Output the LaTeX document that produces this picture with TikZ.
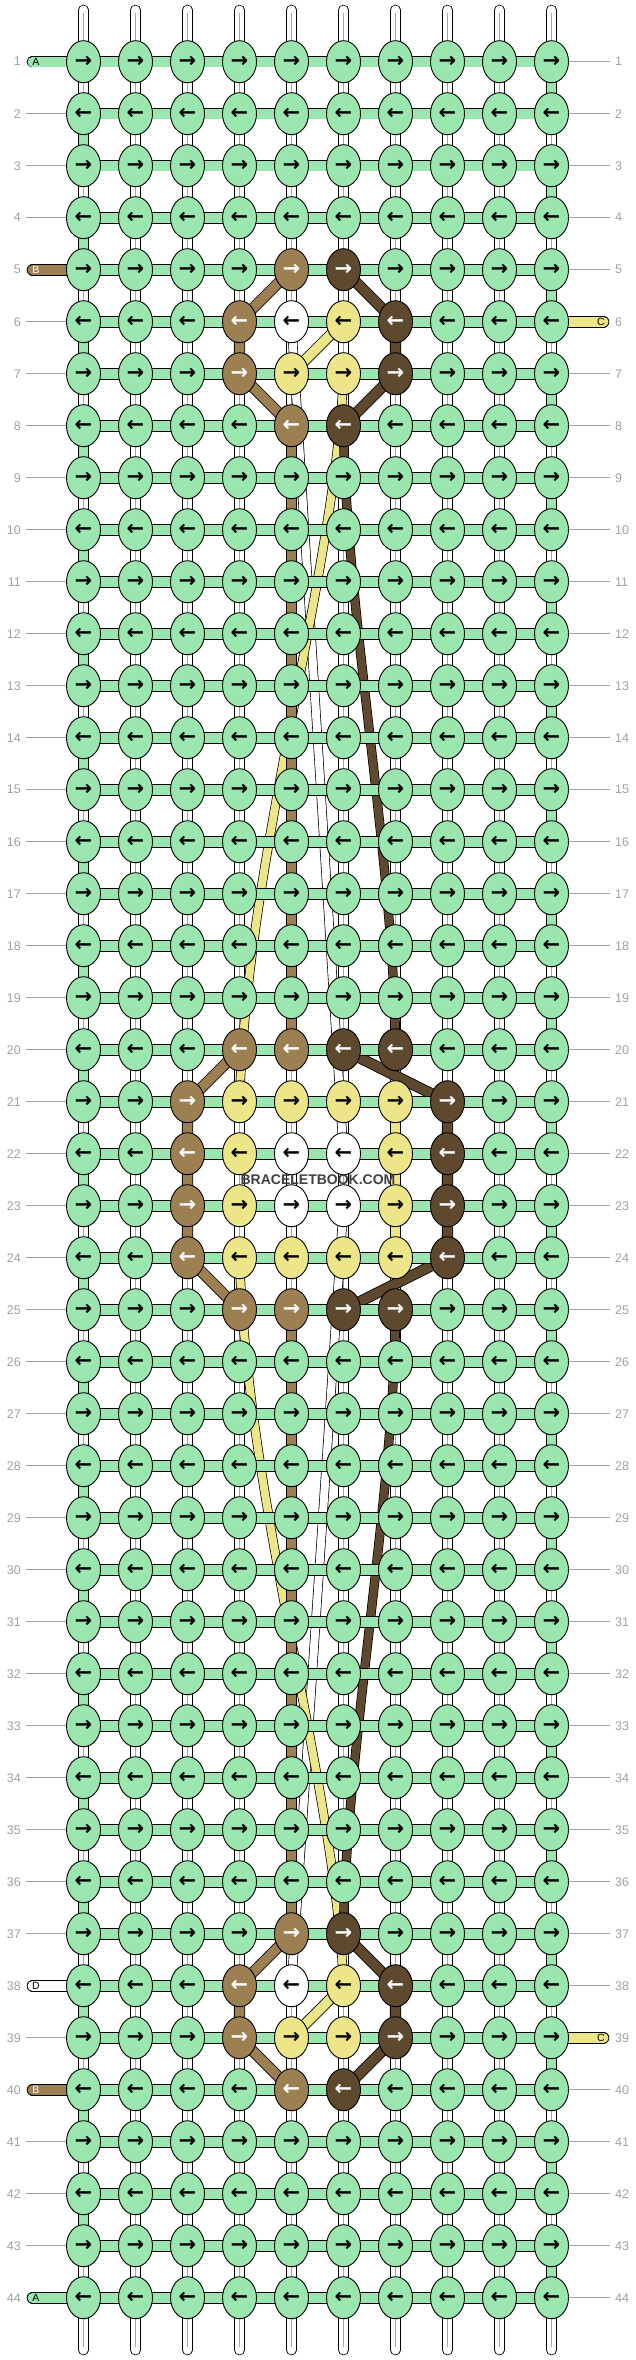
\documentclass[tikz,border=0pt]{standalone}
\usepackage{fontspec}
\setmainfont{Liberation Sans}
\newfontfamily\arrowfont{DejaVu Sans}
\usetikzlibrary{shapes.geometric}
\definecolor{cA}{RGB}{155,230,174}
\definecolor{cB}{RGB}{156,128,82}
\definecolor{cE}{RGB}{94,72,46}
\definecolor{cC}{RGB}{236,230,136}
\definecolor{cW}{RGB}{255,255,255}
\definecolor{numgray}{RGB}{160,160,160}
\definecolor{wmark}{RGB}{64,64,64}
\newcommand\setknot[4]{%
  \expandafter\def\csname kf-\the\numexpr#1\relax-#2\endcsname{#3}%
  \expandafter\def\csname kt-\the\numexpr#1\relax-#2\endcsname{#4}}
\newcommand\motifknots[1]{%
  \setknot{5+#1}{5}{cB}{white}\setknot{5+#1}{6}{cE}{white}%
  \setknot{6+#1}{4}{cB}{white}\setknot{6+#1}{5}{cW}{black}\setknot{6+#1}{6}{cC}{black}\setknot{6+#1}{7}{cE}{white}%
  \setknot{7+#1}{4}{cB}{white}\setknot{7+#1}{5}{cC}{black}\setknot{7+#1}{6}{cC}{black}\setknot{7+#1}{7}{cE}{white}%
  \setknot{8+#1}{5}{cB}{white}\setknot{8+#1}{6}{cE}{white}}
\motifknots{0}\motifknots{32}
\setknot{20}{4}{cB}{white}\setknot{20}{5}{cB}{white}\setknot{20}{6}{cE}{white}\setknot{20}{7}{cE}{white}
\setknot{25}{4}{cB}{white}\setknot{25}{5}{cB}{white}\setknot{25}{6}{cE}{white}\setknot{25}{7}{cE}{white}
\setknot{21}{3}{cB}{white}\setknot{21}{4}{cC}{black}\setknot{21}{5}{cC}{black}\setknot{21}{6}{cC}{black}\setknot{21}{7}{cC}{black}\setknot{21}{8}{cE}{white}
\setknot{24}{3}{cB}{white}\setknot{24}{4}{cC}{black}\setknot{24}{5}{cC}{black}\setknot{24}{6}{cC}{black}\setknot{24}{7}{cC}{black}\setknot{24}{8}{cE}{white}
\setknot{22}{3}{cB}{white}\setknot{22}{4}{cC}{black}\setknot{22}{5}{cW}{black}\setknot{22}{6}{cW}{black}\setknot{22}{7}{cC}{black}\setknot{22}{8}{cE}{white}
\setknot{23}{3}{cB}{white}\setknot{23}{4}{cC}{black}\setknot{23}{5}{cW}{black}\setknot{23}{6}{cW}{black}\setknot{23}{7}{cC}{black}\setknot{23}{8}{cE}{white}
\begin{document}
\begin{tikzpicture}[x=1pt,y=-1pt,
  warp/.style={draw=black,line width=0.8pt,double=white,double distance=9pt,line cap=round},
  warpmid/.style={draw=black!35,line width=0.7pt,shorten <=3pt,shorten >=3pt},
  edgecon/.style={draw=black,line width=0.8pt,double=cA,double distance=9.5pt},
  rowcon/.style={draw=black,line width=0.8pt,double=cA,double distance=10pt},
  tail/.style={draw=black,line width=0.8pt,double=#1,double distance=10pt,line cap=round},
  band/.style={draw=black,line width=0.8pt,double=#1,double distance=9.5pt,line join=round},
  float/.style={draw=black,line width=0.7pt,double=#1,double distance=8pt},
  knot/.style={ellipse,draw=black,line width=0.9pt,minimum width=34pt,minimum height=42pt,inner sep=0pt,
    font=\arrowfont\bfseries\fontsize{21}{21}\selectfont},
  numlbl/.style={text=numgray,font=\fontsize{12.5}{12.5}\selectfont,inner sep=2pt},
  numline/.style={draw=numgray,line width=0.8pt},
  taillbl/.style={font=\fontsize{10.5}{10.5}\selectfont,inner sep=0pt},
  wm/.style={text=wmark,font=\bfseries\fontsize{14}{14}\selectfont,inner sep=0pt}]
\useasboundingbox (0,0) rectangle (636,2360);
% grid positions
\foreach \r in {1,...,44}{\foreach \c in {1,...,10}{
  \coordinate (p-\r-\c) at ({83.5+52*(\c-1)},{61.7+52*(\r-1)});}}
% warp strands
\foreach \c in {1,...,10}{
  \coordinate (t-\c) at ({83.5+52*(\c-1)},10);
  \coordinate (b-\c) at ({83.5+52*(\c-1)},2350);
  \draw[warp] (t-\c) -- (b-\c);
  \draw[warpmid] (t-\c) -- (b-\c);}
% floats behind
\draw[float=cW] (p-6-5) -- (p-22-6);
\draw[float=cW] (p-23-6) -- (p-38-5);
\draw[float=cC] (p-7-6) .. controls +(-8,200) and +(8,-250) .. (p-21-4);
\draw[float=cC] (p-24-4) .. controls +(8,250) and +(-8,-200) .. (p-38-6);
\draw[float=cE] (p-8-6) .. controls +(1.5,175) and +(-0.5,-180) .. (p-20-7);
\draw[float=cE] (p-25-7) .. controls +(-0.5,180) and +(1.5,-175) .. (p-37-6);
\draw[band=cB] (p-8-5) -- (p-20-5);
\draw[band=cB] (p-25-5) -- (p-37-5);
% motif bands
\foreach \o in {0,32}{
  \pgfmathtruncatemacro\ra{5+\o}\pgfmathtruncatemacro\rb{6+\o}
  \pgfmathtruncatemacro\rc{7+\o}\pgfmathtruncatemacro\rd{8+\o}
  \draw[band=cB] (p-\ra-5) -- (p-\rb-4) -- (p-\rc-4) -- (p-\rd-5);
  \draw[band=cE] (p-\ra-6) -- (p-\rb-7) -- (p-\rc-7) -- (p-\rd-6);
  \draw[band=cC] (p-\rb-6) -- (p-\rc-5);}
\draw[band=cB] (p-20-4) -- (p-21-3) -- (p-24-3) -- (p-25-4);
\draw[band=cE] (p-20-6) -- (p-21-8) -- (p-24-8) -- (p-25-6);
\draw[band=cC] (p-21-7) -- (p-24-7);
% green edge turns
\foreach \r [evaluate=\r as \rn using int(\r+1)] in {1,...,43}{
  \ifodd\r \def\ec{10}\else\def\ec{1}\fi
  \draw[edgecon] (p-\r-\ec) -- (p-\rn-\ec);}
% tails
\coordinate (tl-1) at (32.5,61.7);
\coordinate (tl-5) at (32.5,269.7);
\coordinate (tl-38) at (32.5,1985.7);
\coordinate (tl-40) at (32.5,2089.7);
\coordinate (tl-44) at (32.5,2297.7);
\coordinate (tr-6) at (603.5,321.7);
\coordinate (tr-39) at (603.5,2037.7);
\draw[tail=cA] (tl-1) -- (p-1-1);
\draw[tail=cB] (tl-5) -- (p-5-1);
\draw[tail=cW] (tl-38) -- (p-38-1);
\draw[tail=cB] (tl-40) -- (p-40-1);
\draw[tail=cA] (tl-44) -- (p-44-1);
\draw[tail=cC] (tr-6) -- (p-6-10);
\draw[tail=cC] (tr-39) -- (p-39-10);
% rows
\foreach \r in {1,...,44}{\draw[rowcon] (p-\r-1) -- (p-\r-10);}
% knots
\foreach \r in {1,...,44}{
  \foreach \c in {1,...,10}{
    \ifcsname kf-\r-\c\endcsname
      \edef\kfill{\csname kf-\r-\c\endcsname}\edef\ktext{\csname kt-\r-\c\endcsname}%
    \else\def\kfill{cA}\def\ktext{black}\fi
    \ifodd\r \def\kglyph{→}\else\def\kglyph{←}\fi
    \node[knot,fill=\kfill,text=\ktext] (k-\r-\c) at (p-\r-\c) {\kglyph};}}
% tail labels
\node[taillbl] (la-1) at (36,61.7) {A};
\node[taillbl,text=white] (la-5) at (36,269.7) {B};
\node[taillbl] (la-38) at (36,1985.7) {D};
\node[taillbl,text=white] (la-40) at (36,2089.7) {B};
\node[taillbl] (la-44) at (36,2297.7) {A};
\node[taillbl] (ra-6) at (601,321.7) {C};
\node[taillbl] (ra-39) at (601,2037.7) {C};
% row numbers
\foreach \r in {1,...,44}{
  \node[numlbl,anchor=east] (ln-\r) at ({23},{61.7+52*(\r-1)}) {\r};
  \node[numlbl,anchor=west] (rn-\r) at ({613},{61.7+52*(\r-1)}) {\r};}
\foreach \r in {2,3,4,6,7,8,9,10,11,12,13,14,15,16,17,18,19,20,21,22,23,24,25,26,27,28,29,30,31,32,33,34,35,36,37,39,41,42,43}{
  \draw[numline] ([xshift=3pt]ln-\r.east) -- (k-\r-1.west);}
\foreach \r in {1,2,3,4,5,7,8,9,10,11,12,13,14,15,16,17,18,19,20,21,22,23,24,25,26,27,28,29,30,31,32,33,34,35,36,37,38,40,41,42,43,44}{
  \draw[numline] (k-\r-10.east) -- ([xshift=-3pt]rn-\r.west);}
% watermark
\node[wm] (wmk) at (318,1180) {BRACELETBOOK.COM};
\end{tikzpicture}
\end{document}
